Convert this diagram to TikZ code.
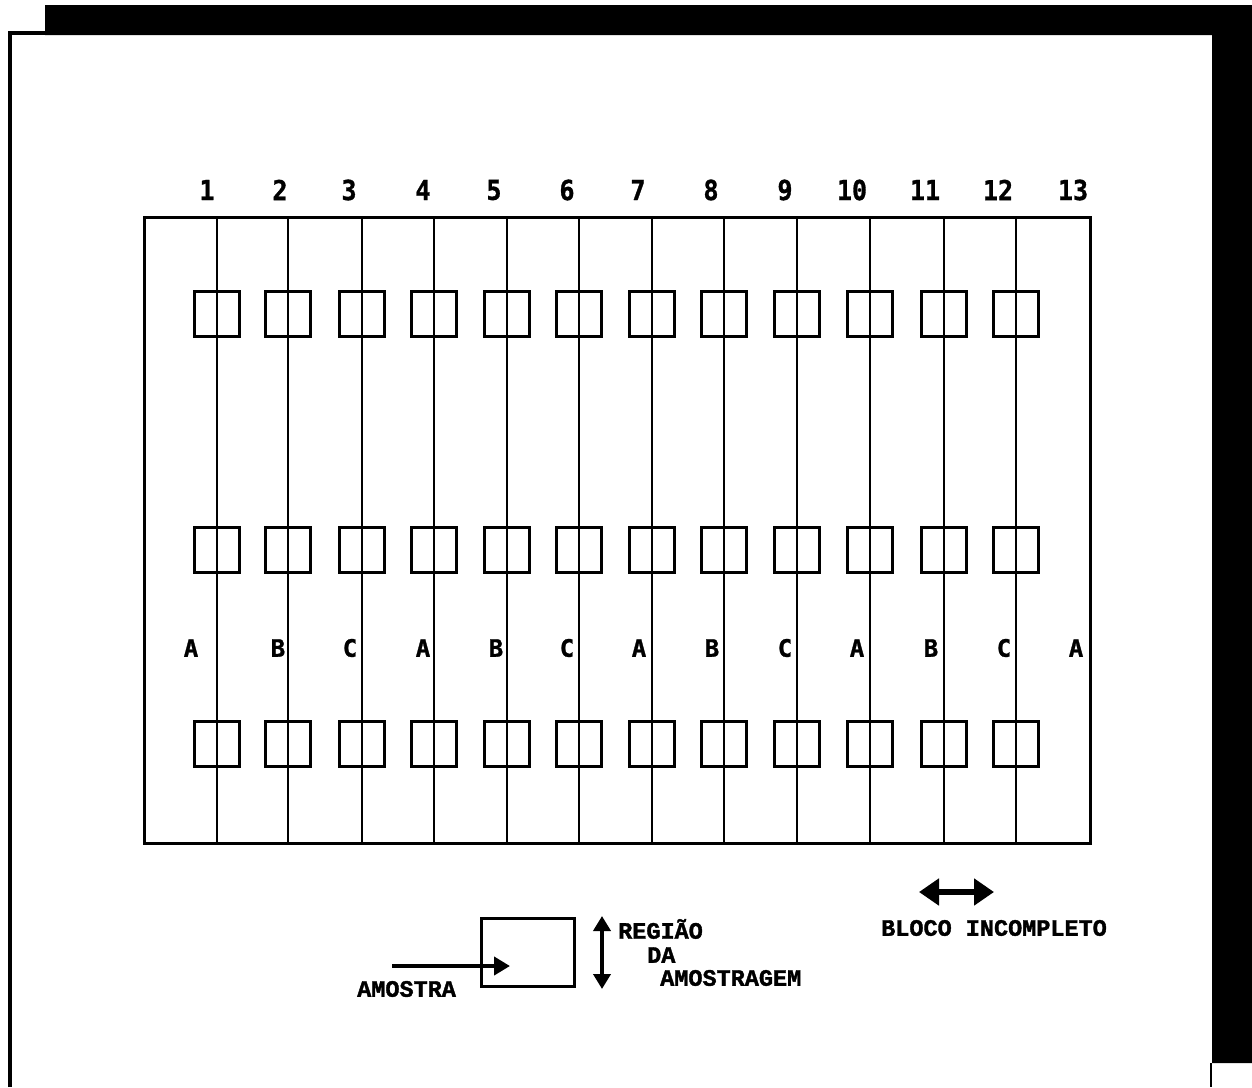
\documentclass[tikz,border=0pt]{standalone}
\usepackage{fontspec}
\setmainfont{Liberation Mono}[BoldFeatures={FakeBold=1.5}]
\newfontfamily\numfont{DejaVu Sans Mono}[BoldFeatures={FakeBold=1.2}]
\usetikzlibrary{arrows.meta}
\begin{document}
\begin{tikzpicture}[x=1pt,y=-1pt,
  plotbox/.style={draw, line width=3pt, minimum width=45pt, minimum height=45pt, inner sep=0pt},
  gridline/.style={line width=2.8pt},
  numlab/.style={font=\numfont\bfseries\fontsize{25}{25}\selectfont, inner sep=0pt, yscale=1.1},
  trtlab/.style={font=\numfont\bfseries\fontsize{24}{24}\selectfont, inner sep=0pt},
  leglab/.style={font=\bfseries\fontsize{23.5}{23.5}\selectfont, inner sep=0pt, anchor=west},
  legarrow/.style={line width=4pt, -{Triangle[length=16pt,width=18pt]}},
  dblarrow/.style={line width=6pt, {Triangle[length=20pt,width=26pt]}-{Triangle[length=20pt,width=26pt]}},
]
\useasboundingbox (0,0) rectangle (1252,1087);
\fill[white] (0,0) rectangle (1252,1087);
% page shadow
\fill[black] (45,5) -- (1252,5) -- (1252,1063) -- (1212,1063) -- (1212,35) -- (45,35) -- cycle;
\draw[line width=2pt] (1211,1063) -- (1211,1087);
% page border
\draw[line width=4pt] (10,1087) -- (10,33) -- (46,33);

% field
\node[draw, line width=3pt, minimum width=946pt, minimum height=626pt, inner sep=0pt, anchor=north west] (field) at (143,216) {};

% columns, plots
\foreach \k/\xx in {1/217,2/288,3/362,4/434,5/507,6/579,7/652,8/724,9/797,10/870,11/944,12/1016} {
  \coordinate (top\k) at (\xx,216);
  \coordinate (bot\k) at (\xx,842);
  \node[plotbox] (pa\k) at (\xx,314) {};
  \node[plotbox] (pb\k) at (\xx,550) {};
  \node[plotbox] (pc\k) at (\xx,744) {};
  \draw[gridline] (top\k) -- (bot\k);
}

% column numbers
\foreach \n/\xx in {1/207,2/280,3/349,4/423,5/494,6/567,7/638,8/711,9/785,10/852,11/925,12/998,13/1073} {
  \node[numlab] (num\n) at (\xx,190) {\n};
}

% treatments
\foreach \i/\t/\xx in {1/A/191,2/B/278,3/C/350,4/A/423,5/B/496,6/C/567,7/A/639,8/B/712,9/C/785,10/A/857,11/B/931,12/C/1004,13/A/1076} {
  \node[trtlab] (trt\i) at (\xx,648) {\t};
}

% legend: sample
\node[draw, line width=3pt, minimum width=93pt, minimum height=68pt, inner sep=0pt] (legbox) at (528,952.5) {};
\coordinate (amsA) at (392,966);
\coordinate (amsB) at (510,966);
\draw[legarrow] (amsA) -- (amsB);
\node[leglab] (amostra) at (357,989) {AMOSTRA};

\coordinate (regA) at (602,916);
\coordinate (regB) at (602,989);
\draw[line width=4pt, {Triangle[length=15pt,width=17pt]}-{Triangle[length=15pt,width=17pt]}] (regA) -- (regB);
\node[leglab] (regiao) at (618,929) {REGIÃO};
\node[leglab] (da) at (647,955) {DA};
\node[leglab] (amostragem) at (660,978) {AMOSTRAGEM};

% legend: incomplete block
\coordinate (blA) at (919,892);
\coordinate (blB) at (994,892);
\draw[dblarrow] (blA) -- (blB);
\node[leglab] (bloco) at (881,928) {BLOCO INCOMPLETO};
\end{tikzpicture}
\end{document}
